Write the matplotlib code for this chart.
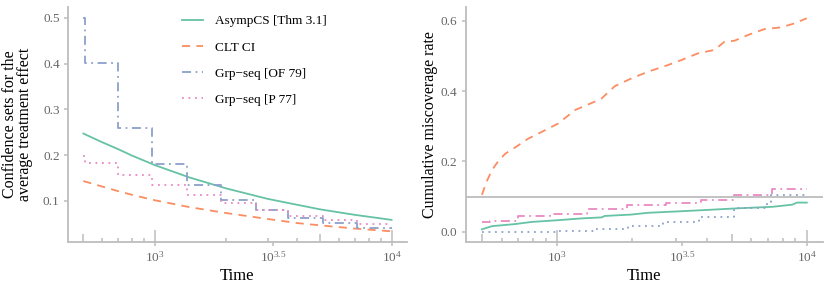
import matplotlib
matplotlib.use("Agg")
import matplotlib.pyplot as plt
import matplotlib.transforms as mtransforms
from matplotlib.ticker import NullLocator

plt.rcParams['font.family'] = ['Liberation Serif', 'DejaVu Serif']
plt.rcParams['mathtext.fontset'] = 'custom'
plt.rcParams['mathtext.rm'] = 'Liberation Serif'
plt.rcParams['mathtext.it'] = 'Liberation Serif:italic'

# colours (Set2)
c_cs = "#66C2A5"
c_clt = "#FC8D62"
c_of = "#8DA0CB"
c_p = "#E78AC3"
grey = "#BDBDBD"

# ---- left panel: widths of the confidence sets ----
t_smooth = [500, 600, 700, 800, 1000, 1400, 2000, 3000, 4000, 5000, 7000, 10000]
asympcs_width = [0.247, 0.228, 0.213, 0.199, 0.178, 0.151, 0.127, 0.104, 0.091, 0.081, 0.069, 0.058]
clt_width = [0.143, 0.131, 0.121, 0.113, 0.101, 0.086, 0.073, 0.060, 0.051, 0.046, 0.039, 0.033]

look_times = [500, 508, 697, 971, 1363, 1909, 2677, 3666, 5144, 7161, 10000]
of79_width = [0.5, 0.401, 0.2585, 0.18, 0.134, 0.1015, 0.079, 0.0628, 0.0505, 0.0395, 0.0395]
p77_width = [0.1985, 0.183, 0.156, 0.134, 0.112, 0.0956, 0.079, 0.0665, 0.0577, 0.048, 0.048]

# ---- right panel: cumulative miscoverage ----
t_clt_mis = [500, 520, 548, 580, 620, 680, 767, 868, 1012, 1179, 1417, 1507, 1703, 1985,
             2313, 2780, 3142, 3661, 4267, 4677, 5128, 5795, 6754, 7869, 8894, 10000]
clt_mis = [0.105, 0.14, 0.175, 0.2, 0.222, 0.24, 0.265, 0.284, 0.308, 0.346, 0.37, 0.379, 0.414, 0.436,
           0.455, 0.474, 0.488, 0.507, 0.517, 0.54, 0.543, 0.559, 0.576, 0.581, 0.592, 0.607]

t_cs_mis = [500, 548, 680, 790, 1010, 1250, 1510, 1550, 1985, 2310, 3050, 3950, 5375, 7270, 8730, 9140, 10000]
cs_mis = [0.007, 0.016, 0.022, 0.028, 0.033, 0.038, 0.041, 0.045, 0.049, 0.054, 0.058, 0.062, 0.067,
          0.071, 0.077, 0.083, 0.083]

t_p_mis = [500, 540, 700, 940, 1320, 1900, 2730, 3770, 5100, 7250, 10000]
p_mis = [0.027, 0.031, 0.045, 0.050, 0.064, 0.076, 0.0825, 0.091, 0.1035, 0.1205, 0.122]

t_of_mis = [500, 1010, 1410, 1930, 2650, 3700, 5100, 6900, 7200, 10000]
of_mis = [0.0, 0.003, 0.007, 0.016, 0.028, 0.043, 0.068, 0.085, 0.1035, 0.105]

nominal = 0.1

xticks = [1000, 10 ** 3.5, 10000]
xticklabels = [r"$10^{3}$", r"$10^{3.5}$", r"$10^{4}$"]
logtick_pos = [500, 600, 700, 800, 900, 1000, 2000, 3000, 4000, 5000, 6000, 7000, 8000, 9000, 10000]
logtick_kind = ["m", "s", "s", "s", "s", "l", "s", "s", "s", "m", "s", "s", "s", "s", "l"]

dash = (0, (4.5, 3.5))
dashdot = (0, (5, 2.5, 1, 2.5))
dotted = (0, (1, 2.6))
lw = 1.3

fig = plt.figure(figsize=(8.3, 2.91), dpi=100)
ax1 = fig.add_axes([0.0819, 0.1684, 0.4084, 0.8076])
ax2 = fig.add_axes([0.5611, 0.1684, 0.4305, 0.8076])


def style(ax, ylabel, lx):
    ax.set_xscale('log')
    ax.set_xlim(10 ** (2.699 - 0.065), 10 ** (4 + 0.065))
    ax.xaxis.set_minor_locator(NullLocator())
    ax.set_xticks(xticks)
    ax.set_xticklabels(xticklabels)
    for s in ['top', 'right']:
        ax.spines[s].set_visible(False)
    for s in ['left', 'bottom']:
        ax.spines[s].set_color(grey)
        ax.spines[s].set_linewidth(1.3)
    ax.tick_params(axis='both', colors=grey, length=3, width=1.1, pad=3,
                   labelcolor="#666666", labelsize=9.5)
    ax.set_xlabel("Time", fontsize=12)
    ax.xaxis.set_label_coords(0.5, -0.11)
    ax.set_ylabel(ylabel, fontsize=11.5, linespacing=0.95)
    ax.yaxis.set_label_coords(lx, 0.5)
    # log ticks drawn inside from the bottom
    trans = mtransforms.blended_transform_factory(ax.transData, ax.transAxes)
    lens = {"s": 0.017, "m": 0.034, "l": 0.051}
    for p, k in zip(logtick_pos, logtick_kind):
        ax.vlines(p, 0, lens[k], transform=trans, color=grey, lw=1.1, clip_on=False)


ax1.plot(t_smooth, asympcs_width, color=c_cs, lw=lw, ls='-', label="AsympCS [Thm 3.1]")
ax1.plot(t_smooth, clt_width, color=c_clt, lw=lw, ls=dash, label="CLT CI")
ax1.plot(look_times, of79_width, color=c_of, lw=lw, ls=dashdot, drawstyle='steps-post',
         label="Grp\u2212seq [OF 79]")
ax1.plot(look_times, p77_width, color=c_p, lw=lw, ls=dotted, drawstyle='steps-post',
         label="Grp\u2212seq [P 77]")
ax1.set_ylim(0.0096, 0.524)
ax1.set_yticks([0.1, 0.2, 0.3, 0.4, 0.5])
style(ax1, "Confidence sets for the\naverage treatment effect", -0.103)
ax1.legend(loc='upper left', bbox_to_anchor=(0.335, 0.965), frameon=False, fontsize=9.5,
           handlelength=1.6, handletextpad=0.95, labelspacing=1.05, borderpad=0, borderaxespad=0)

ax2.axhline(nominal, color=grey, lw=1.3, zorder=1)
ax2.plot(t_clt_mis, clt_mis, color=c_clt, lw=lw, ls=dash)
ax2.plot(t_cs_mis, cs_mis, color=c_cs, lw=lw, ls='-')
ax2.plot(t_p_mis, p_mis, color=c_p, lw=lw, ls=dashdot, drawstyle='steps-post')
ax2.plot(t_of_mis, of_mis, color=c_of, lw=lw, ls=dotted, drawstyle='steps-post')
ax2.set_ylim(-0.029, 0.639)
ax2.set_yticks([0.0, 0.2, 0.4, 0.6])
ax2.set_yticklabels(["0.0", "0.2", "0.4", "0.6"])
style(ax2, "Cumulative miscoverage rate", -0.078)

fig.savefig("out.png", dpi=100)
